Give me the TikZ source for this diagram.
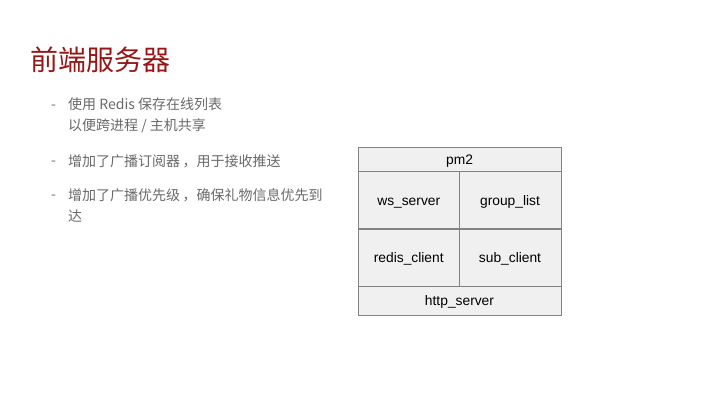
\documentclass[tikz,border=0pt]{standalone}
\usepackage{fontspec}
\setmainfont{Liberation Sans}
\newfontfamily\cjk{Noto Sans CJK SC}
\definecolor{titlered}{RGB}{150,22,22}
\definecolor{bodygray}{RGB}{105,105,105}
\definecolor{cellfill}{RGB}{240,240,240}
\definecolor{celldraw}{RGB}{130,130,130}

\begin{document}
\begin{tikzpicture}[x=1pt, y=-1pt, title/.style={anchor=west, inner sep=0pt, text=titlered, font=\cjk\fontsize{28}{32}\selectfont}, item/.style={anchor=west, inner sep=0pt, align=left, text=bodygray, font=\cjk\fontsize{14}{21}\selectfont}, bullet/.style={anchor=west, inner sep=0pt, text=bodygray, font=\cjk\fontsize{14}{16}\selectfont}, cell/.style={draw=celldraw, fill=cellfill, inner sep=0pt, text height=13pt, text depth=3pt, font=\fontsize{13.8}{16}\selectfont}]

		\useasboundingbox (0,0) rectangle (720,405);

		\node[title] (head) at (30, 60) {前端服务器};

		\node[bullet] (d1) at (51, 107) {-};
		\node[item] (i1) at (68, 115.5) {使用 Redis 保存在线列表\\以便跨进程 / 主机共享};

		\node[bullet] (d2) at (51, 163) {-};
		\node[item] (i2) at (68, 161) {增加了广播订阅器\,，用于接收推送};

		\node[bullet] (d3) at (51, 197) {-};
		\node[item] (i3) at (68, 205.5) {增加了广播优先级\,，确保礼物信息优先到\\达};

		\node[cell, minimum width=202.5, minimum height=24] (pm2) at (459.5, 159.5) {pm2};

		\node[cell, minimum width=101, minimum height=57] (ws) at (408.75, 200) {ws\_server};

		\node[cell, minimum width=101.5, minimum height=57] (group) at (510, 200) {group\_list};

		\node[cell, minimum width=101, minimum height=57] (redis) at (408.75, 257.5) {redis\_client};

		\node[cell, minimum width=101.5, minimum height=57] (sub) at (510, 257.5) {sub\_client};

		\node[cell, minimum width=202.5, minimum height=29] (http) at (459.5, 300.5) {http\_server};

	\end{tikzpicture}
\end{document}
